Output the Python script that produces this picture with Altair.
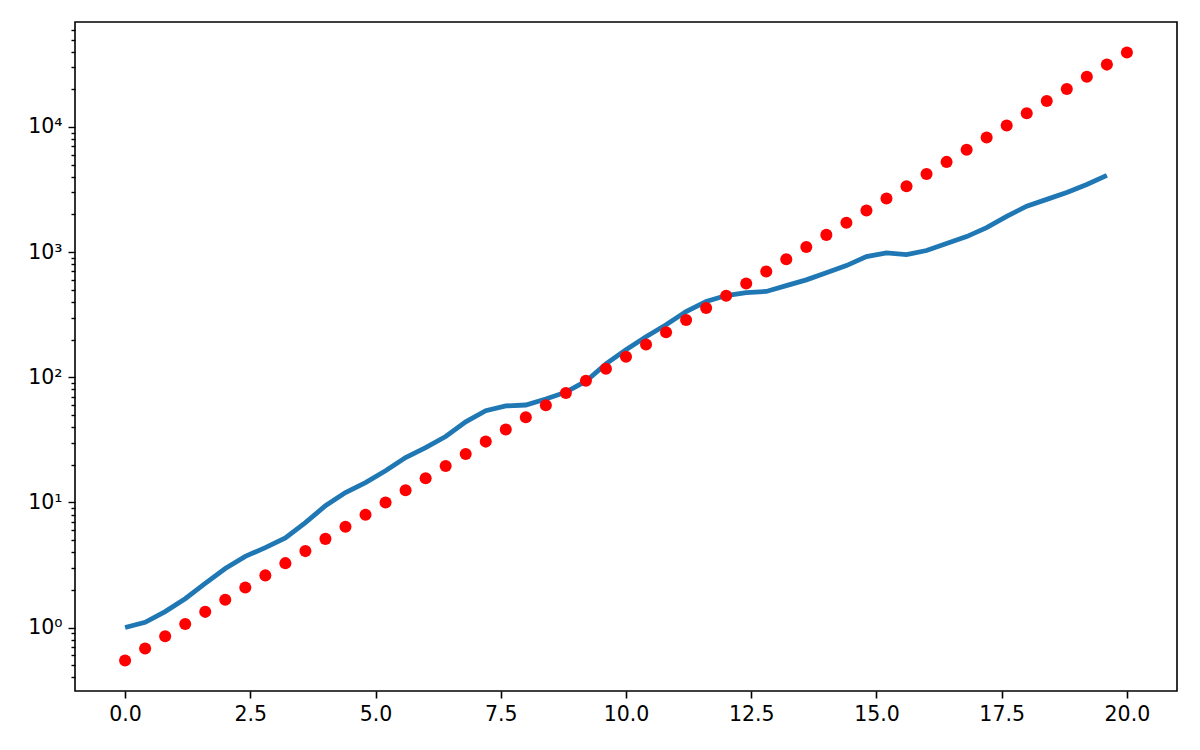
import altair as alt
import pandas as pd

# Red dotted series: x = 0.0 .. 20.0 step 0.4
red_x = [round(i * 0.4, 1) for i in range(51)]
red_y = [0.545, 0.681, 0.853, 1.067, 1.334, 1.668, 2.085, 2.61, 3.27, 4.08,
         5.11, 6.39, 7.98, 9.99, 12.5, 15.6, 19.5, 24.4, 30.6, 38.3,
         47.9, 59.8, 74.8, 93.6, 117, 146, 183, 229, 287, 358,
         448, 561, 701, 877, 1097, 1373, 1717, 2148, 2686, 3360,
         4204, 5260, 6577, 8226, 10290, 12880, 16100, 20140, 25190, 31500,
         39400]

# Blue line series: x = 0.0 .. 19.6 step 0.4
blue_x = [round(i * 0.4, 1) for i in range(50)]
blue_y = [1.0, 1.1, 1.34, 1.7, 2.25, 2.96, 3.7, 4.35, 5.2, 6.9,
          9.4, 12.0, 14.4, 17.9, 22.8, 27.4, 33.6, 44, 54, 59,
          60, 67, 76, 93, 128, 166, 211, 263, 335, 403,
          450, 475, 485, 540, 600, 685, 780, 920, 985, 955,
          1030, 1170, 1330, 1570, 1930, 2330, 2640, 3000, 3470, 4100]

x_ticks = [0.0, 2.5, 5.0, 7.5, 10.0, 12.5, 15.0, 17.5, 20.0]
y_ticks = [m * 10 ** k for k in range(-1, 5) for m in range(1, 10)]
y_ticks = [v for v in y_ticks if 0.311 <= v <= 69000]

red_df = pd.DataFrame({"x": red_x, "y": red_y})
blue_df = pd.DataFrame({"x": blue_x, "y": blue_y})

x_scale = alt.Scale(domain=[-1.0, 21.0], nice=False, zero=False)
y_scale = alt.Scale(type="log", domain=[0.311, 69000], nice=False)

is_major = "abs(log(datum.value)/LN10 - round(log(datum.value)/LN10)) < 1e-6"

x_axis = alt.Axis(values=x_ticks, title=None, grid=False, labelExpr="format(datum.value, '.1f')",
                  tickSize=7, tickWidth=1.6, tickColor="black", domain=False,
                  labelFont="DejaVu Sans", labelFontSize=20.5, labelColor="black", labelPadding=6,
                  labelFlush=False)
y_axis = alt.Axis(values=y_ticks, title=None, grid=False,
                  labelExpr="(" + is_major + ") ? '10' + ['⁰','¹','²','³','⁴'][round(log(datum.value)/LN10)] : ''",
                  tickSize={"condition": {"test": is_major, "value": 7}, "value": 4},
                  tickWidth=1.4, tickColor="black", domain=False,
                  labelFont="DejaVu Sans", labelFontSize=20.5, labelColor="black", labelPadding=6,
                  labelFlush=False, labelOverlap=False)

line = alt.Chart(blue_df).mark_line(color="#1f77b4", strokeWidth=4.8).encode(
    x=alt.X("x:Q", scale=x_scale, axis=x_axis),
    y=alt.Y("y:Q", scale=y_scale, axis=y_axis),
)

dots = alt.Chart(red_df).mark_circle(color="#ff0000", opacity=1, size=145).encode(
    x=alt.X("x:Q", scale=x_scale),
    y=alt.Y("y:Q", scale=y_scale),
)

chart = alt.layer(line, dots).properties(
    width=1102, height=669,
    autosize=alt.AutoSizeParams(type="none"),
    padding={"left": 67, "top": 14, "right": 10, "bottom": 45},
    background="white",
).configure_view(stroke="black", strokeWidth=1.6)

chart.save("out.html", embed_options={"renderer": "svg", "actions": False})
